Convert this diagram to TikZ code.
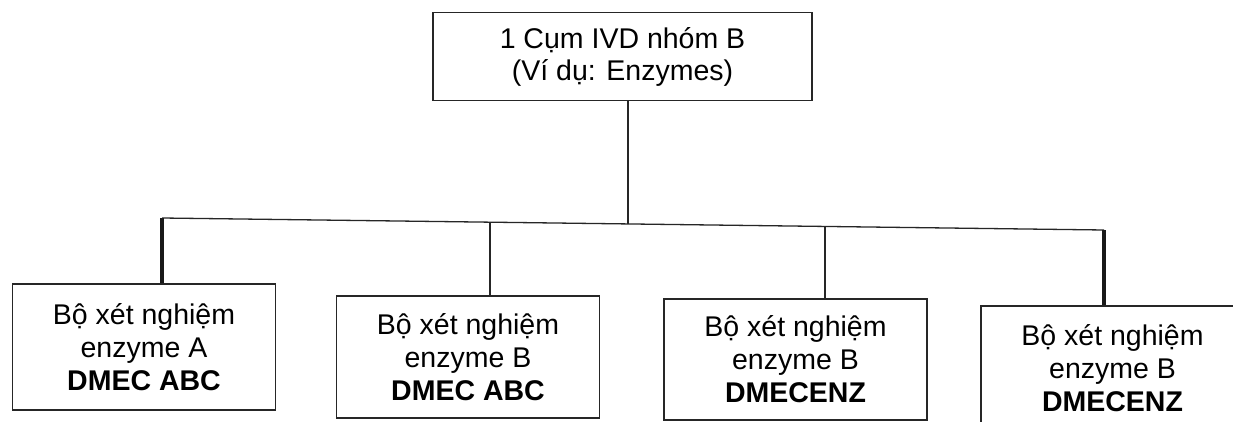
\documentclass[tikz,border=0pt]{standalone}
\usepackage{fontspec}
\setmainfont{Liberation Sans}
\begin{document}
\begin{tikzpicture}[x=1pt,y=-1pt,
  box/.style={draw=black!85, line width=1.4pt, align=center, inner sep=0pt,
    text=black, font=\fontsize{28.5}{33}\selectfont},
  topbox/.style={box, minimum width=379pt, minimum height=88pt,
    font=\fontsize{28.5}{32}\selectfont},
  childbox/.style={box, minimum width=263pt, minimum height=123pt},
  thinline/.style={draw=black!85, line width=1.3pt},
  thickline/.style={draw=black!90, line width=3.6pt}]
\clip (0,0) rectangle (1233,422);
\useasboundingbox (0,0) rectangle (1233,422);
\fill[white] (0,0) rectangle (1233,422);
\node[topbox] (top) at (622.5,56.5) {1 Cụm IVD nhóm B\\(Ví dụ: Enzymes)};
\node[childbox, minimum height=126pt] (c1) at (144,347) {Bộ xét nghiệm\\enzyme A\\\textbf{DMEC ABC}};
\node[childbox, minimum height=122pt] (c2) at (468,357) {Bộ xét nghiệm\\enzyme B\\\textbf{DMEC ABC}};
\node[childbox, minimum height=121pt] (c3) at (795.5,359.5) {Bộ xét nghiệm\\enzyme B\\\textbf{DMECENZ}};
\node[childbox, minimum height=124pt] (c4) at (1112.5,368) {Bộ xét nghiệm\\enzyme B\\\textbf{DMECENZ}};
\coordinate (b1) at (162,218);
\coordinate (b2) at (490,222.2);
\coordinate (bm) at (628,224);
\coordinate (b3) at (825,226.4);
\coordinate (b4) at (1104,230);
\draw[thinline] (b1) -- (b4);
\draw[thinline] (top.south -| bm) -- (bm);
\draw[thickline] (b1) -- (b1 |- c1.north);
\draw[thinline] (b2) -- (b2 |- c2.north);
\draw[thinline] (b3) -- (b3 |- c3.north);
\draw[thickline] (b4) -- (b4 |- c4.north);
\end{tikzpicture}
\end{document}
